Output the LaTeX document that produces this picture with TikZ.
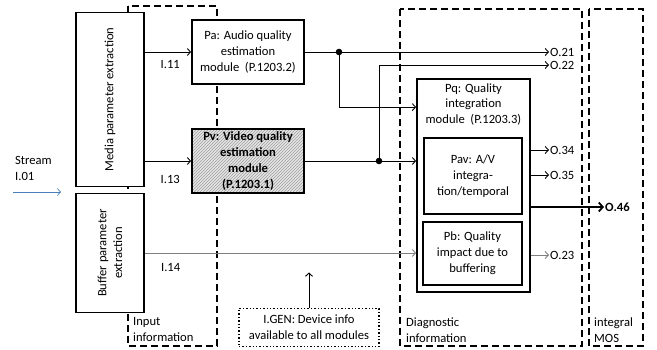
\documentclass[tikz,border=0pt]{standalone}
\usepackage{fontspec}
\setmainfont{Carlito}
\usetikzlibrary{arrows.meta,patterns,positioning}
\definecolor{strom}{HTML}{4A7EBB}
\definecolor{grau}{HTML}{7F7F7F}
\newcommand{\fsz}{\fontsize{12.6}{15.8}\selectfont}
\tikzset{
  box/.style={draw,line width=1.8pt,fill=white,inner sep=1pt,align=center},
  hatchbox/.style={draw,line width=1.8pt,inner sep=1pt,align=center,
    preaction={fill=gray!20},pattern=north east lines,pattern color=gray!75},
  area/.style={line width=1.8pt,dash pattern=on 7pt off 4pt},
  gen/.style={draw,line width=1.4pt,dotted,align=center},
  conn/.style={-{Straight Barb[length=3.2pt,width=7pt]},line width=0.9pt},
  bigconn/.style={-{Straight Barb[length=4pt,width=9pt]},line width=1.8pt},
  outlbl/.style={anchor=west,inner sep=1pt},
  lbl/.style={inner sep=1pt},
  note/.style={anchor=north west,align=left,inner sep=0pt},
}

\begin{document}
\begin{tikzpicture}[x=1pt,y=-1pt,font=\fsz]
  \useasboundingbox (0,0) rectangle (657,350);
  \draw[area] (128,6) rectangle (217,346);
  \draw[area] (400,9) rectangle (582,346);
  \draw[area] (589,9) rectangle (643,346);
  \node[note] (inp) at (133,317.5) {Input\\information};
  \node[note] (diag) at (406,317.5) {Diagnostic\\information};
  \node[note] (mos) at (594,317.5) {integral\\MOS};

  \node[note] (stream) at (15,156.5) {Stream\\I.01};
  \coordinate (sin) at (13,192);
  \coordinate (sout) at (61,192);
  \draw[conn,strom,line width=0.7pt] (sin) -- (sout);

  \node[box,minimum width=68pt,minimum height=174pt] (media) at (110,99.5) {};
  \node[rotate=90] (mediatxt) at (media.center) {Media parameter extraction};
  \node[box,minimum width=68pt,minimum height=119pt] (buffer) at (110,253) {};
  \node[rotate=90,align=center] (buffertxt) at (buffer.center) {Buffer parameter\\extraction};

  \node[box,minimum width=112pt,minimum height=64pt] (pa) at (248,52)
    {Pa: Audio quality\\estimation\\module~ (P.1203.2)};
  \node[hatchbox,minimum width=112pt,minimum height=64pt,font=\fsz\bfseries] (pv) at (248,161)
    {Pv: Video quality\\estimation\\module\\(P.1203.1)};

  \node[box,minimum width=113pt,minimum height=213pt] (pq) at (473.5,185.5) {};
  \node[align=center,inner sep=1pt,below=4pt of pq.north] (pqtxt)
    {Pq: Quality\\integration\\module~ (P.1203.3)};
  \node[box,minimum width=98pt,minimum height=76pt] (pav) at (473,176)
    {Pav: A/V\\integra-\\tion/temporal};
  \node[box,minimum width=99pt,minimum height=63pt] (pb) at (472.5,253.5)
    {Pb: Quality\\impact due to\\buffering};

  \node[gen,minimum width=140pt,minimum height=38pt] (igen) at (309,327.5)
    {I.GEN: Device info\\available to all modules};
  \coordinate (devtip) at (309,272.5);
  \draw[conn] (igen.north) -- (devtip);

  \node[outlbl] (o21) at (549,52) {O.21};
  \node[outlbl] (o22) at (549,65) {O.22};
  \node[outlbl] (o34) at (549,150) {O.34};
  \node[outlbl] (o35) at (549,175) {O.35};
  \node[outlbl] (o23) at (549,255) {O.23};
  \node[outlbl,font=\fsz\bfseries] (o46) at (604,207) {O.46};

  \draw[conn] (media.east |- pa.west) -- (pa.west) node[lbl,pos=0.55,below=7pt] (l11) {I.11};
  \draw[conn] (media.east |- pv.west) -- (pv.west) node[lbl,pos=0.55,below=13pt] (l13) {I.13};
  \draw[conn,grau] (buffer.east) -- (pq.west |- buffer.east) node[lbl,black,pos=0.095,below=9pt] (l14) {I.14};

  \coordinate (ja) at (339,52);
  \coordinate (jv) at (379,161);
  \draw[conn] (pa.east) -- (o21.west);
  \draw[conn] (ja) |- ([yshift=-29pt]pq.north west);
  \draw[conn] (pv.east) -- (pq.west |- pv.east);
  \draw[conn] (jv) |- (o22.west);
  \fill (ja) circle (3.3pt);
  \fill (jv) circle (3.3pt);

  \draw[conn] (pq.east |- o34.west) -- (o34.west);
  \draw[conn] (pq.east |- o35.west) -- (o35.west);
  \draw[conn,grau] (pq.east |- o23.west) -- (o23.west);
  \draw[bigconn] (pq.east |- o46.west) -- (o46.west);
\end{tikzpicture}
\end{document}
